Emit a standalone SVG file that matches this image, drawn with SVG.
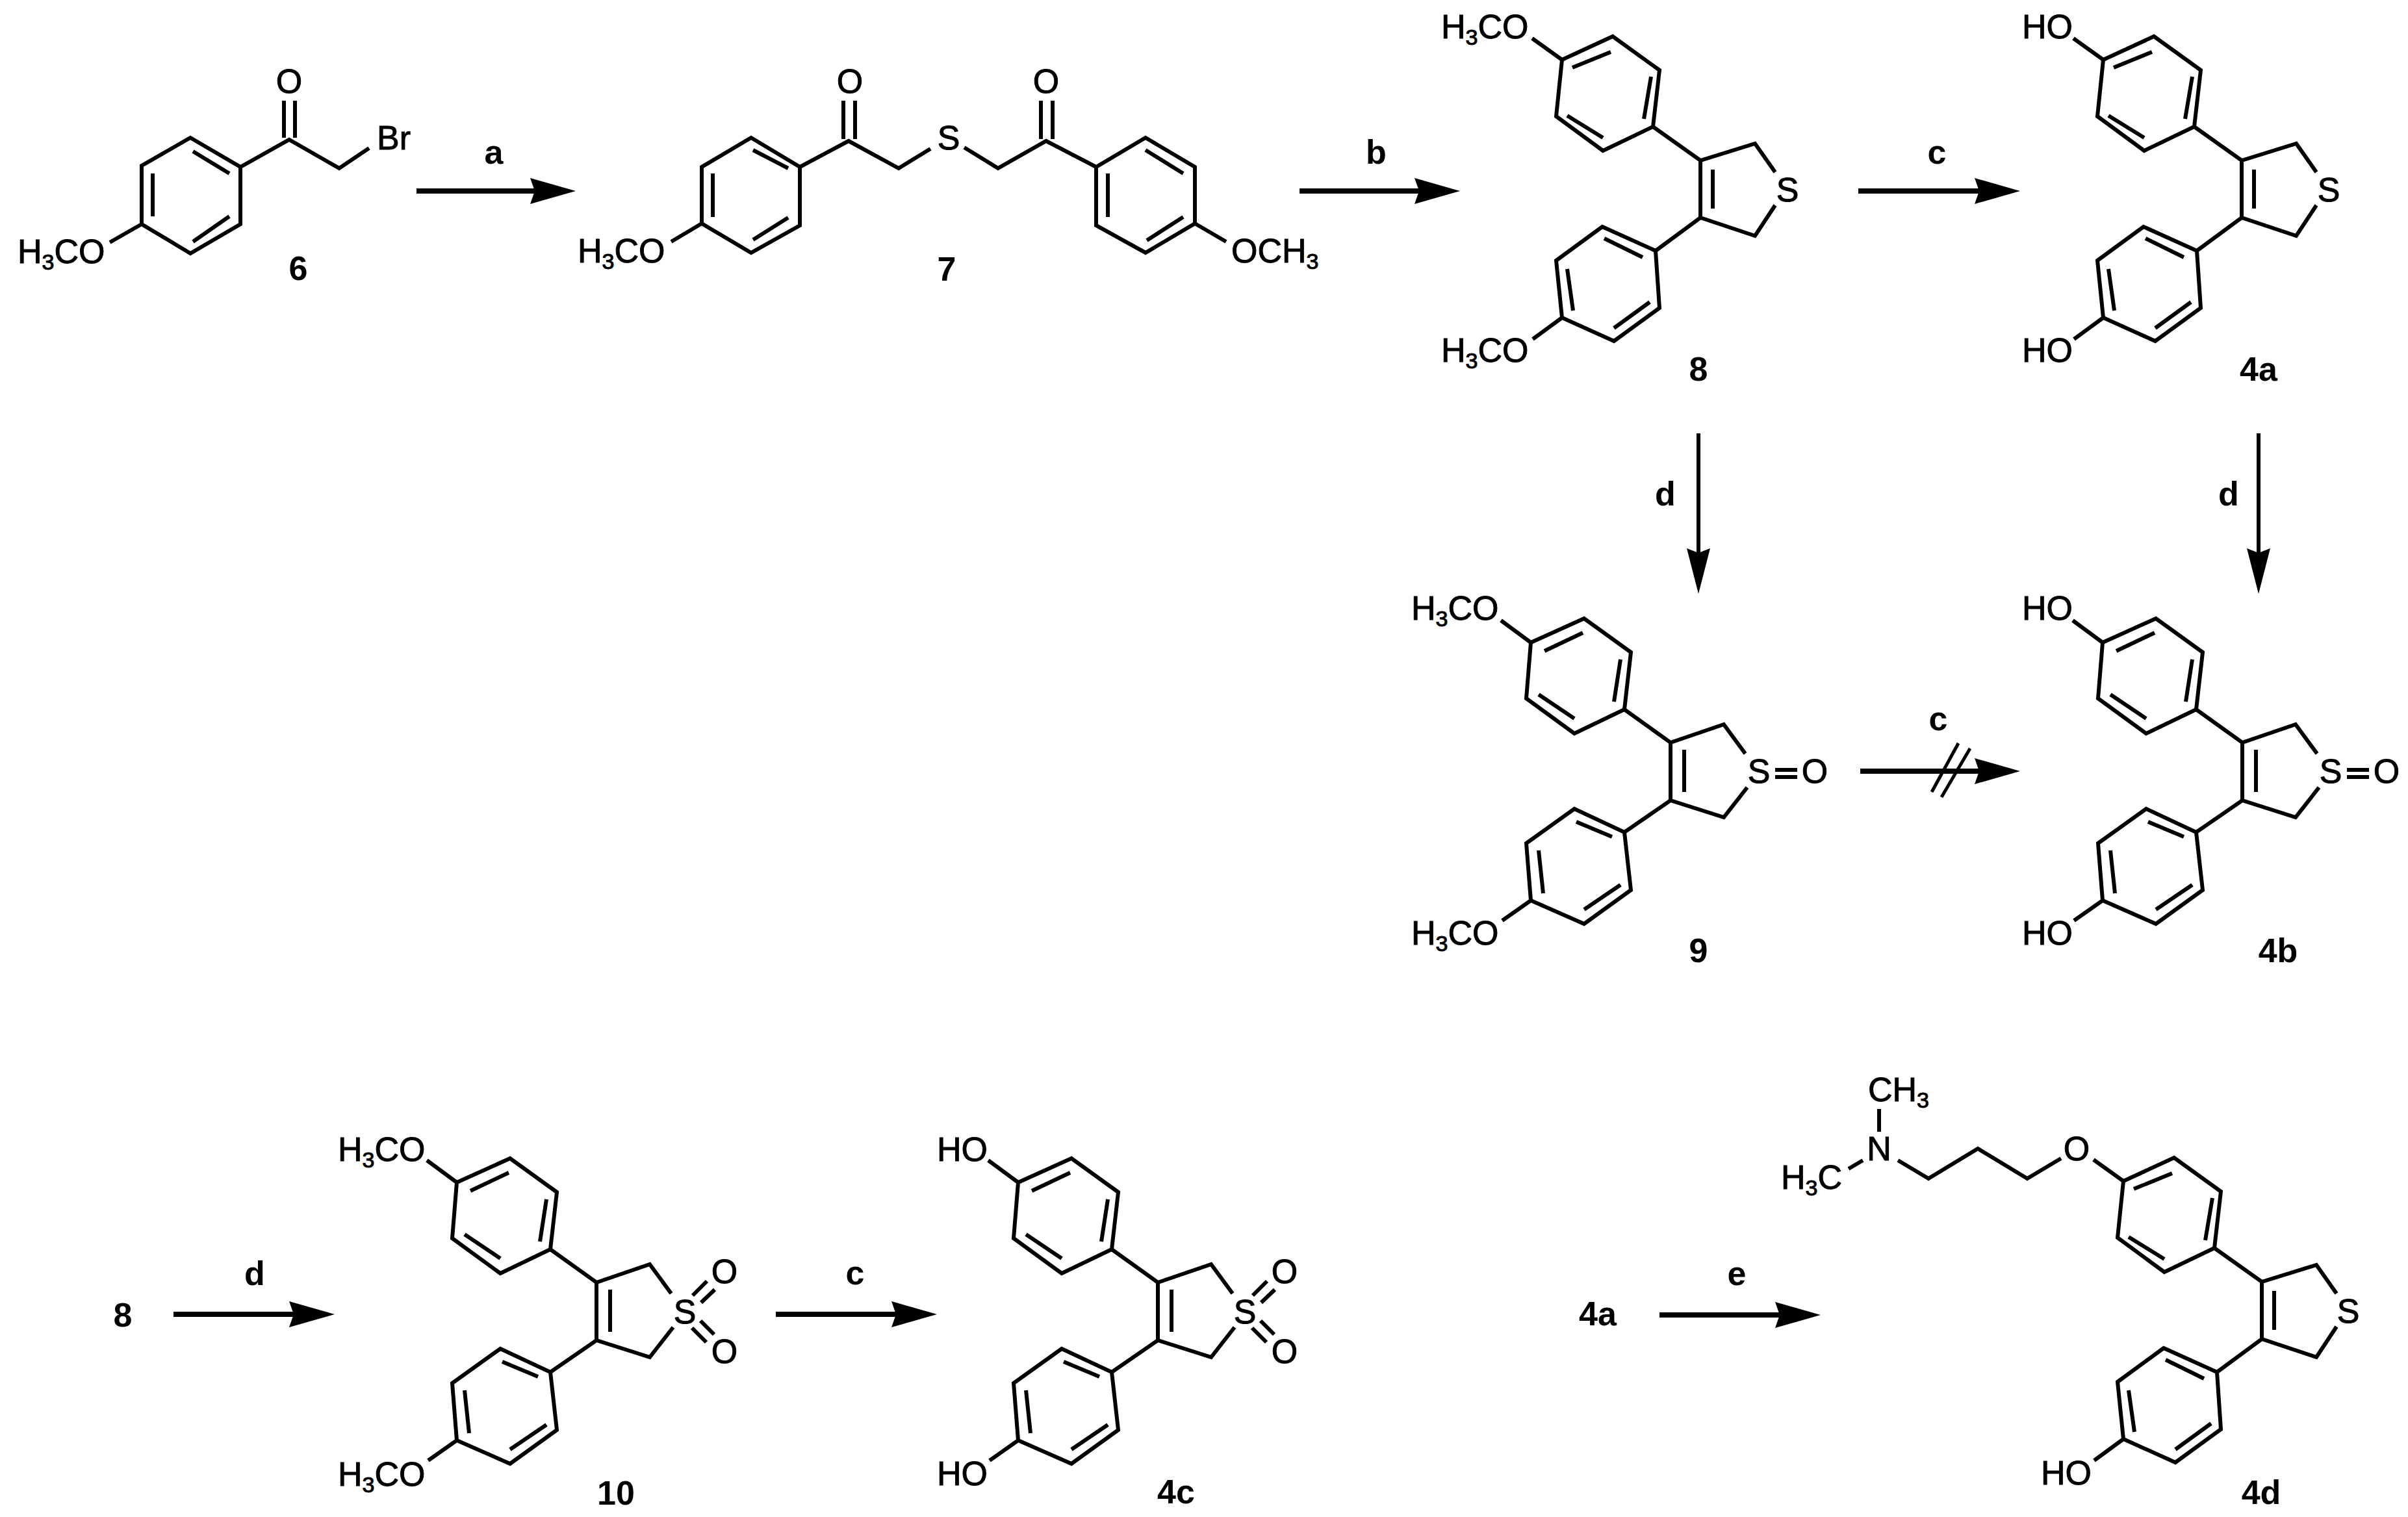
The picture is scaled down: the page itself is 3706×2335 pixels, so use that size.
<svg xmlns="http://www.w3.org/2000/svg" width="3706" height="2335" viewBox="0 0 3706 2335">
<style>
text{font-family:"Liberation Sans",Arial,sans-serif;font-size:52px;fill:#000;stroke:#000;stroke-width:1}
.m{text-anchor:middle}
.lb{font-weight:bold;text-anchor:middle;stroke-width:0}
.s{font-size:34px}
.b{fill:none;stroke:#000;stroke-width:6;stroke-linejoin:miter}
.a{fill:none;stroke:#000;stroke-width:8}
.v{fill:none;stroke:#000;stroke-width:6}
.x{fill:none;stroke:#000;stroke-width:5}
</style>
<defs>
<marker id="hd" markerUnits="userSpaceOnUse" markerWidth="72" markerHeight="44" refX="7" refY="22" orient="auto"><path d="M0,2 L70,22 L0,42 L7,22 Z" fill="#000"/></marker>
<marker id="hv" markerUnits="userSpaceOnUse" markerWidth="72" markerHeight="40" refX="7" refY="20" orient="auto"><path d="M0,2 L70,20 L0,38 L7,20 Z" fill="#000"/></marker>
<path id="coreA" class="b" d="M2404,92 L2482,56 L2554,108 L2544,195 L2467,232 L2395,179 Z M2420,104 L2479,80 M2541,118 L2530,183 M2412,178 L2467,212 M2404,92 L2358,59 M2544,195 L2617,247 L2701,221 L2732,265 M2617,247 L2617,335 M2636,261 L2636,321 M2732,316 L2701,363 L2617,335 L2548,386 M2548,386 L2466,349 L2395,401 L2404,489 L2484,525 L2554,474 Z M2469,367 L2528,396 M2412,414 L2421,478 M2484,505 L2539,465 M2404,489 L2359,522"/>
<path id="coreB" class="b" d="M2356,989 L2438,952 L2510,1004 L2500,1092 L2423,1129 L2349,1075 Z M2377,1002 L2436,974 M2494,1015 L2484,1080 M2368,1069 L2423,1106 M2356,989 L2310,955 M2500,1092 L2571,1143 L2653,1115 L2686,1160 M2571,1143 L2571,1232 M2592,1154 L2592,1219 M2689,1212 L2653,1258 L2571,1232 L2500,1281 M2500,1281 L2423,1245 L2349,1298 L2356,1386 L2438,1422 L2510,1370 Z M2426,1265 L2481,1288 M2368,1309 L2375,1375 M2438,1400 L2494,1362 M2356,1386 L2312,1417"/>
<path id="sox" class="b" d="M2732,1185 L2766,1185 M2732,1196 L2766,1196"/>
<path id="so2" class="b" d="M1066,1994 L1088,1972 M1079,2005 L1100,1985 M1078,2033 L1099,2054 M1065,2044 L1087,2066"/>
</defs>
<rect width="3706" height="2335" fill="#fff"/>
<g id="connectors">
<line class="a" x1="641" y1="294" x2="823" y2="294" marker-end="url(#hd)"/>
<line class="a" x1="2000" y1="294" x2="2184" y2="294" marker-end="url(#hd)"/>
<line class="a" x1="2860" y1="294" x2="3046" y2="294" marker-end="url(#hd)"/>
<line class="v" x1="2614" y1="667" x2="2614" y2="851" marker-end="url(#hv)"/>
<line class="v" x1="3476" y1="667" x2="3476" y2="851" marker-end="url(#hv)"/>
<line class="a" x1="2863" y1="1187" x2="3046" y2="1187" marker-end="url(#hd)"/>
<line class="x" x1="3014" y1="1144" x2="2973" y2="1219"/>
<line class="x" x1="3032" y1="1152" x2="2988" y2="1227"/>
<line class="a" x1="267" y1="2023" x2="452" y2="2023" marker-end="url(#hd)"/>
<line class="a" x1="1194" y1="2023" x2="1379" y2="2023" marker-end="url(#hd)"/>
<line class="a" x1="2554" y1="2024" x2="2739" y2="2024" marker-end="url(#hd)"/>
<text class="lb" x="760" y="252">a</text>
<text class="lb" x="2118" y="252">b</text>
<text class="lb" x="2981" y="252">c</text>
<text class="lb" x="2563" y="778">d</text>
<text class="lb" x="3430" y="778">d</text>
<text class="lb" x="2983" y="1124">c</text>
<text class="lb" x="392" y="1978">d</text>
<text class="lb" x="1316" y="1977">c</text>
<text class="lb" x="2673" y="1978">e</text>
</g>
<g id="node-6">
<path class="b" d="M293,212 L370,257 L370,345 L293,390 L218,345 L218,255 Z M297,233 L353,267 M235,267 L235,333 M297,372 L353,333 M370,257 L445,215 L522,259 L568,228 M437,212 L437,155 M454,212 L454,155 M218,345 L169,373"/>
<text class="m" x="445" y="143">O</text>
<text x="580" y="230">Br</text>
<text x="27" y="405">H<tspan class="s" dy="10">3</tspan><tspan dy="-10">CO</tspan></text>
<text class="lb" x="459" y="431">6</text>
</g>
<g id="node-7">
<path class="b" d="M1156,212 L1231,257 L1231,347 L1156,389 L1080,344 L1080,257 Z M1159,231 L1213,259 M1097,267 L1097,334 M1159,369 L1213,335 M1080,344 L1033,372 M1231,257 L1306,217 L1383,259 L1432,229 M1484,227 L1536,259 L1610,217 L1687,257 M1298,214 L1298,155 M1316,214 L1316,155 M1602,214 L1602,155 M1620,214 L1620,155 M1687,257 L1763,212 L1839,257 L1839,344 L1763,389 L1687,347 Z M1763,231 L1821,267 M1705,267 L1705,334 M1765,370 L1821,334 M1839,344 L1887,372"/>
<text class="m" x="1308" y="143">O</text>
<text class="m" x="1610" y="143">O</text>
<text class="m" x="1460" y="230">S</text>
<text x="889" y="404">H<tspan class="s" dy="10">3</tspan><tspan dy="-10">CO</tspan></text>
<text x="1895" y="404">OCH<tspan class="s" dy="10">3</tspan></text>
<text class="lb" x="1457" y="432">7</text>
</g>
<g id="node-8">
<use href="#coreA"/>
<text x="2218" y="59">H<tspan class="s" dy="10">3</tspan><tspan dy="-10">CO</tspan></text>
<text x="2218" y="557">H<tspan class="s" dy="10">3</tspan><tspan dy="-10">CO</tspan></text>
<text class="m" x="2751" y="310">S</text>
<text class="lb" x="2614" y="586">8</text>
</g>
<g id="node-4a">
<use href="#coreA" transform="translate(833,0)"/>
<text x="3112" y="59">HO</text>
<text x="3112" y="557">HO</text>
<text class="m" x="3584" y="310">S</text>
<text class="lb" x="3476" y="586">4a</text>
</g>
<g id="node-9">
<use href="#coreB"/>
<use href="#sox"/>
<text x="2172" y="954">H<tspan class="s" dy="10">3</tspan><tspan dy="-10">CO</tspan></text>
<text x="2172" y="1454">H<tspan class="s" dy="10">3</tspan><tspan dy="-10">CO</tspan></text>
<text class="m" x="2707" y="1205">S</text>
<text class="m" x="2793" y="1205">O</text>
<text class="lb" x="2614" y="1481">9</text>
</g>
<g id="node-4b">
<use href="#coreB" transform="translate(880,0)"/>
<use href="#sox" transform="translate(880,0)"/>
<text x="3112" y="954">HO</text>
<text x="3112" y="1454">HO</text>
<text class="m" x="3587" y="1205">S</text>
<text class="m" x="3673" y="1205">O</text>
<text class="lb" x="3506" y="1481">4b</text>
</g>
<g id="node-8b">
<text class="lb" x="189" y="2042">8</text>
</g>
<g id="node-10">
<use href="#coreB" transform="translate(-1653,831)"/>
<use href="#so2"/>
<text x="520" y="1787">H<tspan class="s" dy="10">3</tspan><tspan dy="-10">CO</tspan></text>
<text x="520" y="2287">H<tspan class="s" dy="10">3</tspan><tspan dy="-10">CO</tspan></text>
<text class="m" x="1054" y="2037">S</text>
<text class="m" x="1115" y="1975">O</text>
<text class="m" x="1115" y="2098">O</text>
<text class="lb" x="948" y="2316">10</text>
</g>
<g id="node-4c">
<use href="#coreB" transform="translate(-789,831)"/>
<use href="#so2" transform="translate(862,0)"/>
<text x="1442" y="1787">HO</text>
<text x="1442" y="2286">HO</text>
<text class="m" x="1916" y="2037">S</text>
<text class="m" x="1977" y="1975">O</text>
<text class="m" x="1977" y="2098">O</text>
<text class="lb" x="1810" y="2314">4c</text>
</g>
<g id="node-4a-start">
<text class="lb" x="2459" y="2040">4a</text>
</g>
<g id="node-4d">
<use href="#coreA" transform="translate(864,1726)"/>
<path class="b" d="M3172,1783 L3120,1814 L3044,1768 L2968,1814 L2921,1786 M2892,1707 L2892,1742 M2845,1799 L2867,1786"/>
<text x="2875" y="1695">CH<tspan class="s" dy="10">3</tspan></text>
<text class="m" x="2892" y="1786">N</text>
<text x="2741" y="1830">H<tspan class="s" dy="10">3</tspan><tspan dy="-10">C</tspan></text>
<text class="m" x="3196" y="1786">O</text>
<text class="m" x="3614" y="2036">S</text>
<text x="3141" y="2285">HO</text>
<text class="lb" x="3480" y="2315">4d</text>
</g>
</svg>
